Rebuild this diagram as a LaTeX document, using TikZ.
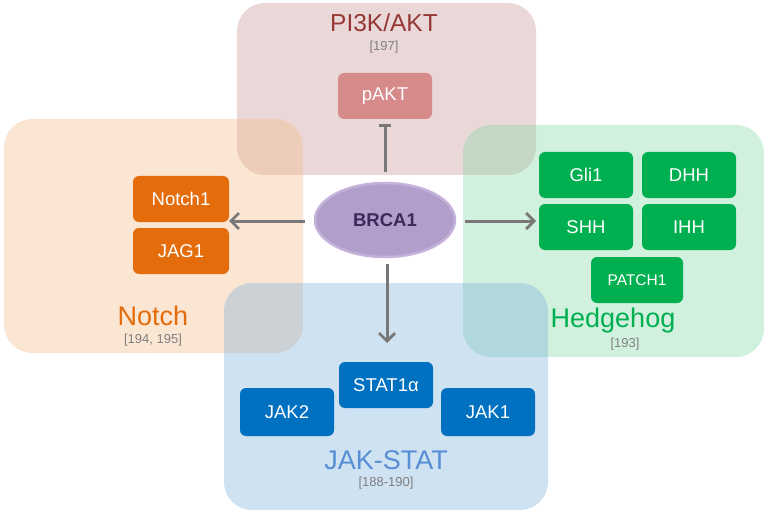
\documentclass[tikz,border=0pt]{standalone}
\usepackage{fontspec}
\setmainfont{Liberation Sans}
\usetikzlibrary{arrows.meta,shapes.geometric}
\definecolor{pibase}{RGB}{195,144,144}
\definecolor{nobase}{RGB}{244,181,129}
\definecolor{hhbase}{RGB}{124,212,161}
\definecolor{jkbase}{RGB}{118,172,218}
\definecolor{pibox}{RGB}{214,138,138}
\definecolor{nobox}{RGB}{228,108,10}
\definecolor{hhbox}{RGB}{0,176,80}
\definecolor{jkbox}{RGB}{0,112,192}
\definecolor{pititle}{RGB}{149,55,53}
\definecolor{notitle}{RGB}{228,108,10}
\definecolor{hhtitle}{RGB}{0,176,80}
\definecolor{jktitle}{RGB}{85,142,213}
\definecolor{refgray}{RGB}{128,128,128}
\definecolor{arrowgray}{RGB}{120,120,120}
\definecolor{brcafill}{RGB}{178,158,202}
\definecolor{brcaedge}{RGB}{196,178,218}
\definecolor{brcatext}{RGB}{60,40,90}
\begin{document}
\begin{tikzpicture}[x=1pt,y=-1pt,
  region/.style={fill opacity=0.35, rounded corners=28pt},
  gene/.style={rounded corners=6pt, minimum width=94pt, minimum height=46pt,
    text=white, inner sep=0pt, font=\fontsize{18.5}{20}\selectfont},
  title/.style={inner sep=0pt, font=\fontsize{27}{30}\selectfont},
  reftext/.style={inner sep=0pt, text=refgray, font=\fontsize{13}{15}\selectfont},
  conn/.style={draw=arrowgray, line width=3pt,
    -{Straight Barb[length=8pt,width=16pt,line width=2.8pt]}},
  inhib/.style={draw=arrowgray, line width=3pt, -{Bar[width=12pt,line width=3pt]}}]
\useasboundingbox (0,0) rectangle (766,516);

% regions
\fill[region, pibase] (237,3) rectangle (536,175);
\fill[region, nobase] (4,119) rectangle (303,353);
\fill[region, hhbase] (463,125) rectangle (764,357);
\fill[region, jkbase] (224,283) rectangle (548,510);

% titles
\node[title, text=pititle, font=\fontsize{24.5}{26}\selectfont] (pit) at (384,23) {PI3K/AKT};
\node[reftext] (pir) at (384,47) {[197]};
\node[title, text=notitle] (not) at (153,316) {Notch};
\node[reftext] (nor) at (153,340) {[194, 195]};
\node[title, text=hhtitle] (hht) at (613,321) {Hedgehog};
\node[reftext] (hhr) at (625,344) {[193]};
\node[title, text=jktitle] (jkt) at (386,460) {JAK-STAT};
\node[reftext] (jkr) at (386,483) {[188-190]};

% genes
\node[gene, fill=pibox] (pakt) at (385,96) {pAKT};
\node[gene, fill=nobox, minimum width=96pt] (notch1) at (181,199) {Notch1};
\node[gene, fill=nobox, minimum width=96pt] (jag1) at (181,251) {JAG1};
\node[gene, fill=hhbox] (gli1) at (586,175) {Gli1};
\node[gene, fill=hhbox] (dhh) at (689,175) {DHH};
\node[gene, fill=hhbox] (shh) at (586,227) {SHH};
\node[gene, fill=hhbox] (ihh) at (689,227) {IHH};
\node[gene, fill=hhbox, minimum width=92pt, font=\fontsize{15.5}{17}\selectfont] (patch1) at (637,280) {PATCH1};
\node[gene, fill=jkbox] (stat1) at (386,385) {STAT1α};
\node[gene, fill=jkbox, minimum height=48pt] (jak2) at (287,412) {JAK2};
\node[gene, fill=jkbox, minimum height=48pt] (jak1) at (488,412) {JAK1};

% BRCA1
\node[ellipse, fill=brcafill, draw=brcaedge, line width=2.5pt,
  minimum width=140pt, minimum height=74pt, inner sep=0pt,
  text=brcatext, font=\bfseries\fontsize{18.5}{20}\selectfont] (brca) at (385,220) {BRCA1};

% connectors
\coordinate (nin) at (229,221);
\coordinate (hin) at (536,221);
\coordinate (jin) at (387,343);
\coordinate (bl) at (305,221);
\coordinate (br) at (465,221);
\coordinate (bb) at (387,264);
\coordinate (bt) at (385,172);
\draw[conn] (bl) -- (nin);
\draw[conn] (br) -- (hin);
\draw[conn] (bb) -- (jin);
\draw[inhib, shorten >=5pt] (bt) -- (pakt.south);
\end{tikzpicture}
\end{document}
